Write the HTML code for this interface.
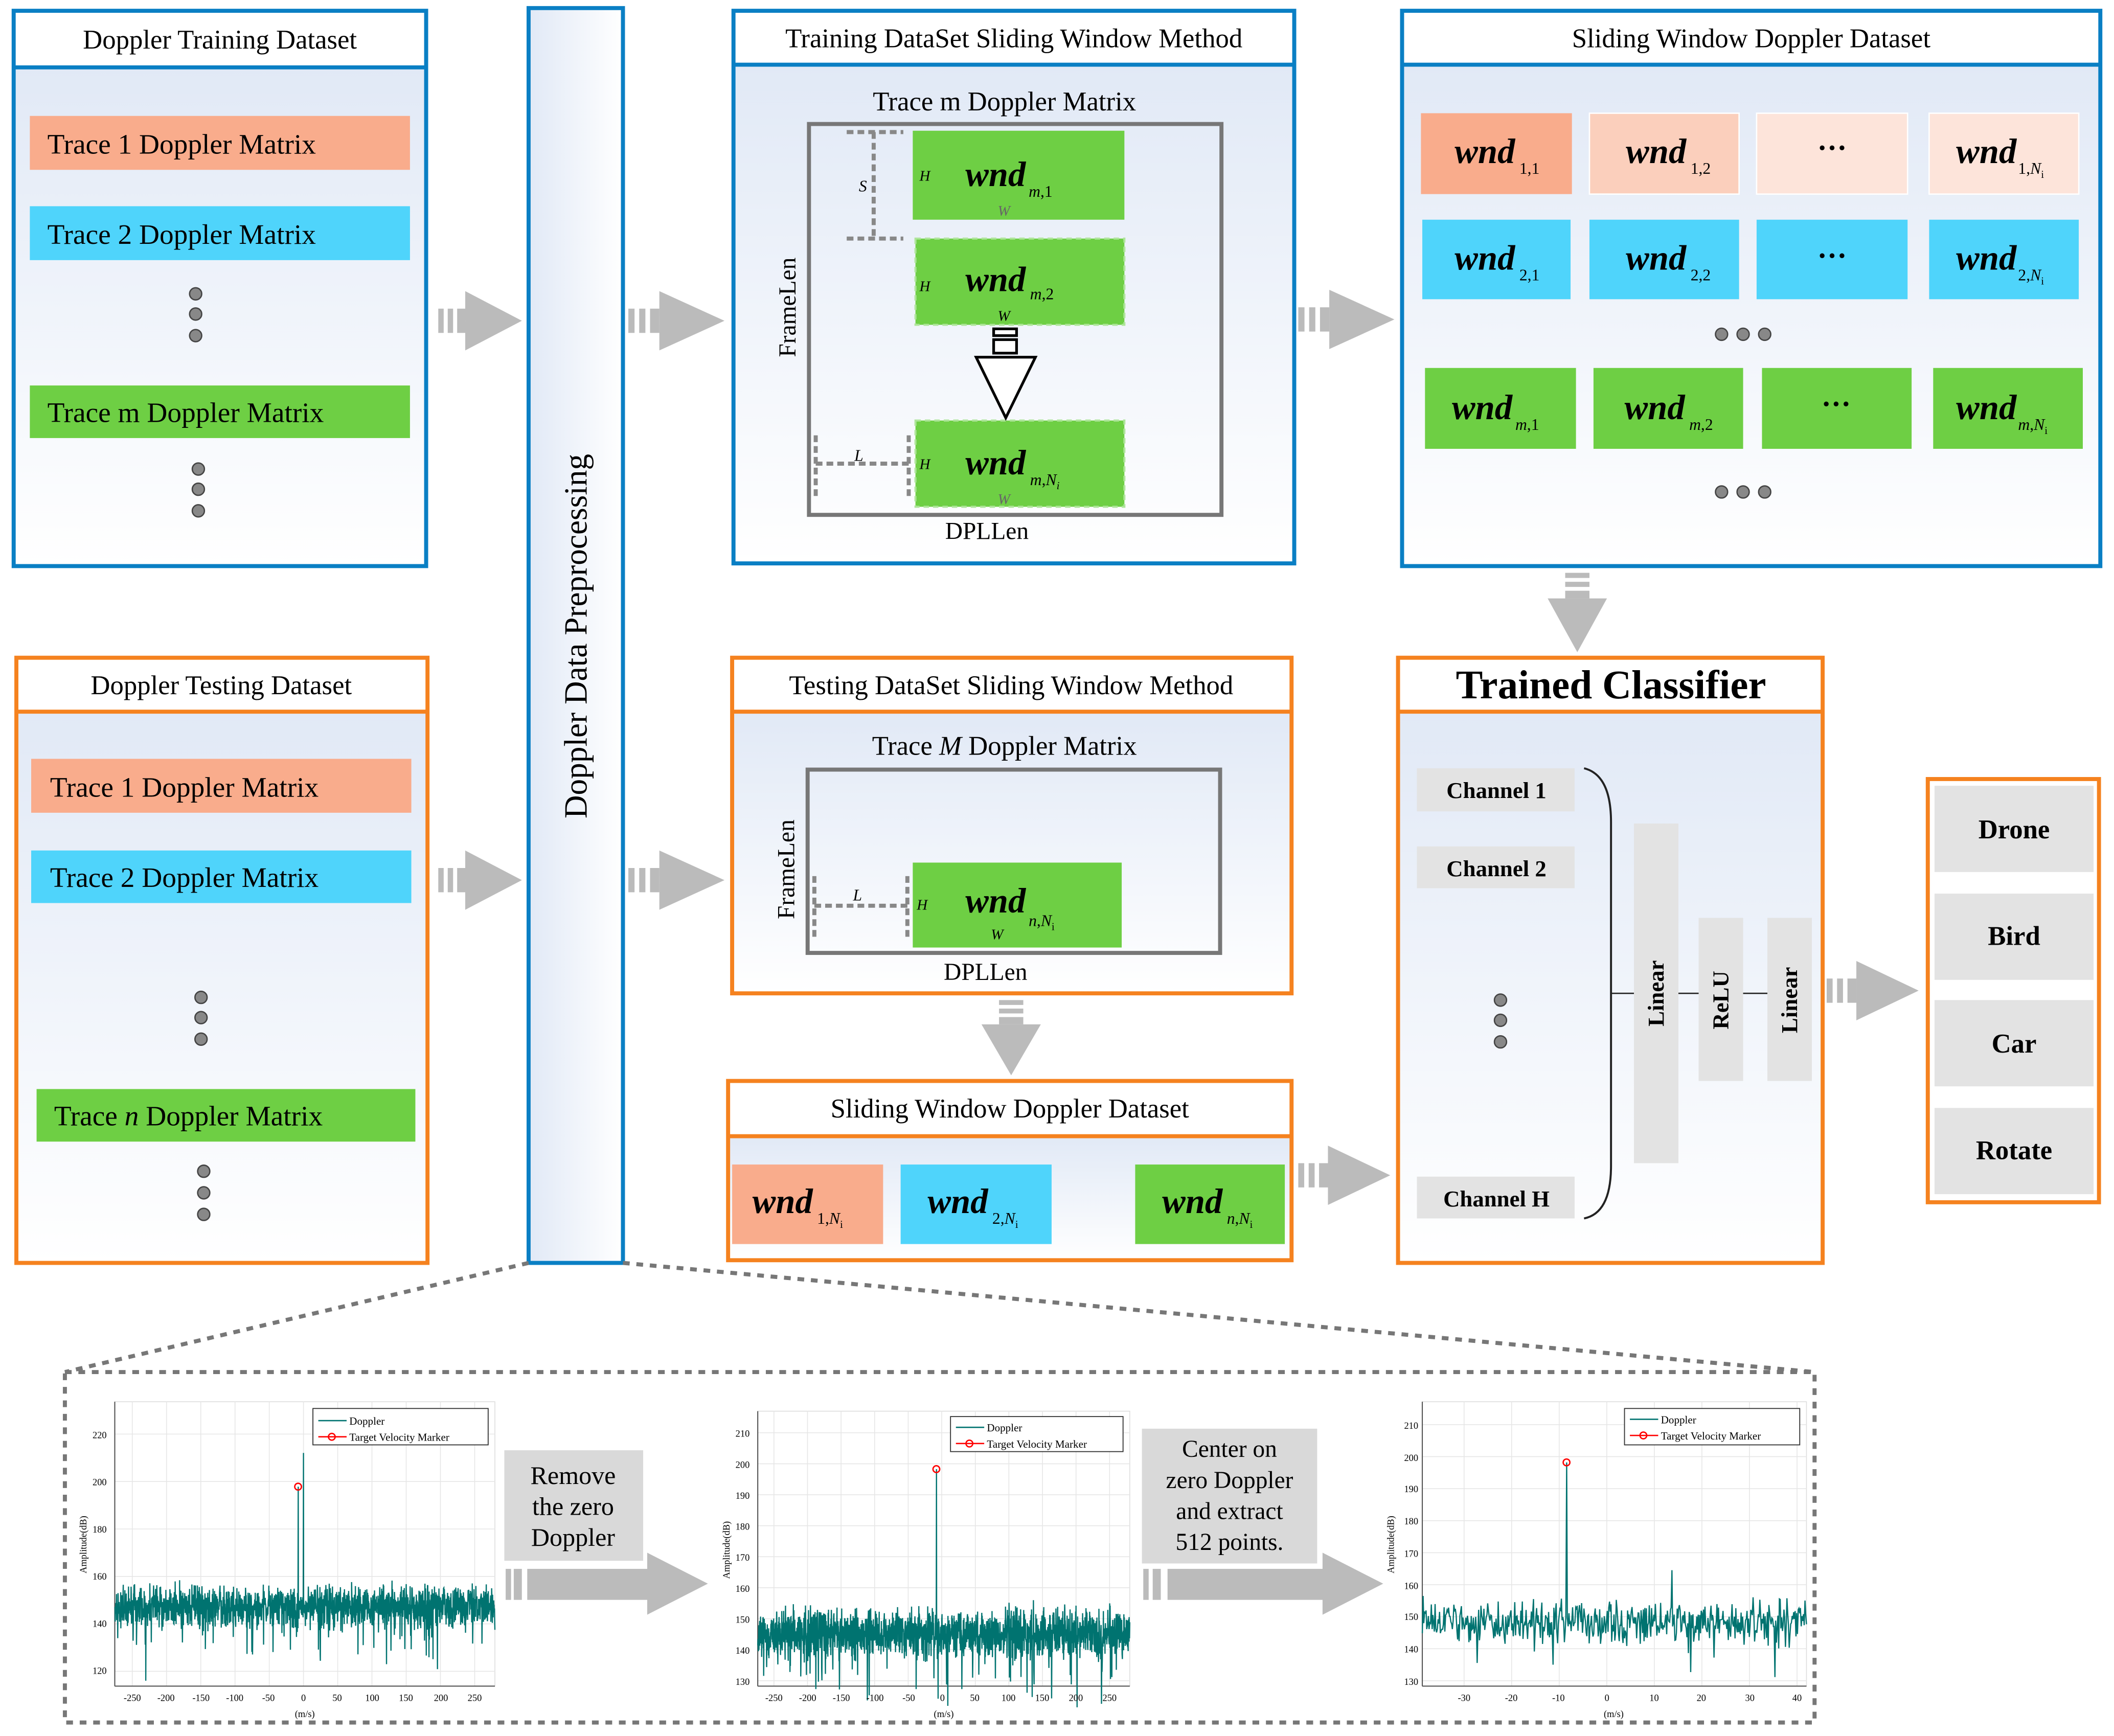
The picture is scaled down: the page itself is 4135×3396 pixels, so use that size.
<!DOCTYPE html>
<html><head><meta charset="utf-8"><style>
html,body{margin:0;padding:0;background:#fff}
svg{display:block}
text{font-family:"Liberation Serif",serif}
</style></head><body>
<svg id="s" width="4135" height="3396" viewBox="0 0 1568 1288" xmlns="http://www.w3.org/2000/svg">
<defs>
<linearGradient id="g" x1="0" y1="0" x2="0" y2="1"><stop offset="0" stop-color="#e1e9f6"/><stop offset="1" stop-color="#ffffff"/></linearGradient>
<linearGradient id="gh" x1="0" y1="0" x2="1" y2="0"><stop offset="0" stop-color="#e1e9f6"/><stop offset="1" stop-color="#ffffff"/></linearGradient>
<g id="ar"><rect x="0" y="-9" width="4" height="18" fill="#bbb"/><rect x="7" y="-9" width="4" height="18" fill="#bbb"/><rect x="14" y="-9" width="6" height="18" fill="#bbb"/><polygon points="20,-22 62,0 20,22" fill="#bbb"/></g>
</defs>
<rect width="1568" height="1288" fill="#fff"/>

<!-- Training dataset -->
<rect x="10" y="50" width="306" height="370" fill="url(#g)"/>
<rect x="10" y="8" width="306" height="412" fill="none" stroke="#0a7fc4" stroke-width="3"/>
<line x1="10" y1="50" x2="316" y2="50" stroke="#0a7fc4" stroke-width="3"/>
<text x="163" y="36" font-size="20" text-anchor="middle">Doppler Training Dataset</text>
<rect x="22" y="86" width="282" height="40" fill="#f9ac8c"/><text x="35" y="114" font-size="21">Trace 1 Doppler Matrix</text>
<rect x="22" y="153" width="282" height="40" fill="#4fd4fb"/><text x="35" y="181" font-size="21">Trace 2 Doppler Matrix</text>
<rect x="22" y="286" width="282" height="39" fill="#6ecf44"/><text x="35" y="313" font-size="21">Trace m Doppler Matrix</text>
<g fill="#888" stroke="#444" stroke-width="1"><circle cx="145" cy="218" r="4.5"/><circle cx="145" cy="233" r="4.5"/><circle cx="145" cy="249" r="4.5"/><circle cx="147" cy="348" r="4.5"/><circle cx="147" cy="363" r="4.5"/><circle cx="147" cy="379" r="4.5"/></g>

<!-- Testing dataset -->
<rect x="12" y="528" width="305" height="409" fill="url(#g)"/>
<rect x="12" y="488" width="305" height="449" fill="none" stroke="#f5821f" stroke-width="3"/>
<line x1="12" y1="528" x2="317" y2="528" stroke="#f5821f" stroke-width="3"/>
<text x="164" y="515" font-size="20" text-anchor="middle">Doppler Testing Dataset</text>
<rect x="23" y="563" width="282" height="40" fill="#f9ac8c"/><text x="37" y="591" font-size="21">Trace 1 Doppler Matrix</text>
<rect x="23" y="631" width="282" height="39" fill="#4fd4fb"/><text x="37" y="658" font-size="21">Trace 2 Doppler Matrix</text>
<rect x="27" y="808" width="281" height="39" fill="#6ecf44"/><text x="40" y="835" font-size="21">Trace <tspan font-style="italic">n</tspan> Doppler Matrix</text>
<g fill="#888" stroke="#444" stroke-width="1"><circle cx="149" cy="740" r="4.5"/><circle cx="149" cy="755" r="4.5"/><circle cx="149" cy="771" r="4.5"/><circle cx="151" cy="869" r="4.5"/><circle cx="151" cy="885" r="4.5"/><circle cx="151" cy="901" r="4.5"/></g>

<!-- Preprocessing -->
<rect x="392" y="6" width="70" height="931" fill="url(#gh)" stroke="#0a7fc4" stroke-width="3"/>
<text transform="translate(435,472) rotate(-90)" font-size="24" text-anchor="middle">Doppler Data Preprocessing</text>

<!-- arrows -->
<use href="#ar" transform="translate(325,238)"/>
<use href="#ar" transform="translate(325,653)"/>
<use href="#ar" transform="translate(466,238) scale(1.15,1)"/>
<use href="#ar" transform="translate(466,653) scale(1.15,1)"/>
<use href="#ar" transform="translate(963,237) scale(1.15,1)"/>
<use href="#ar" transform="translate(963,872) scale(1.1,1)"/>
<use href="#ar" transform="translate(1355,735) scale(1.1,1)"/>
<use href="#ar" transform="translate(1170,425) rotate(90) scale(0.95,1)"/>
<use href="#ar" transform="translate(750,742) rotate(90) scale(0.9,1)"/>

<!-- Training sliding window -->
<rect x="544" y="48" width="416" height="370" fill="url(#g)"/>
<rect x="544" y="8" width="416" height="410" fill="none" stroke="#0a7fc4" stroke-width="3"/>
<line x1="544" y1="48" x2="960" y2="48" stroke="#0a7fc4" stroke-width="3"/>
<text x="752" y="35" font-size="20" text-anchor="middle">Training DataSet Sliding Window Method</text>
<text x="745" y="82" font-size="20" text-anchor="middle">Trace m Doppler Matrix</text>
<rect x="600" y="92" width="306" height="290" fill="none" stroke="#777" stroke-width="3"/>
<rect x="677" y="97" width="157" height="66" fill="#6ecf44"/>
<rect x="679" y="177" width="155" height="64" fill="#6ecf44" stroke="#aee59a" stroke-width="1.5" stroke-dasharray="4,3"/>
<rect x="679" y="312" width="155" height="64" fill="#6ecf44" stroke="#aee59a" stroke-width="1.5" stroke-dasharray="4,3"/>
<g font-style="italic" font-size="11"><text x="682" y="134">H</text><text x="682" y="216">H</text><text x="682" y="348">H</text><text x="740" y="160" fill="#666">W</text><text x="740" y="238">W</text><text x="740" y="374" fill="#666">W</text></g>
<g font-style="italic" font-weight="bold" font-size="26"><text x="716" y="138">wnd</text><text x="716" y="216">wnd</text><text x="716" y="352">wnd</text></g>
<g font-style="italic" font-size="12"><text x="763" y="146">m<tspan font-style="normal">,1</tspan></text><text x="764" y="222">m<tspan font-style="normal">,2</tspan></text><text x="764" y="360">m<tspan font-style="normal">,</tspan>N<tspan font-size="8" dy="3">i</tspan></text></g>
<g fill="#fff" stroke="#000" stroke-width="2"><rect x="737" y="244" width="17" height="5"/><rect x="737" y="252" width="17" height="10"/><polygon points="724,265 768,265 746,310"/></g>
<g stroke="#888" stroke-width="3" stroke-dasharray="5,3" fill="none"><line x1="628" y1="98" x2="670" y2="98"/><line x1="628" y1="177" x2="670" y2="177"/><line x1="648" y1="98" x2="648" y2="177"/><line x1="605" y1="323" x2="605" y2="368"/><line x1="674" y1="323" x2="674" y2="368"/><line x1="605" y1="344" x2="674" y2="344"/></g>
<text x="640" y="142" font-size="12" font-style="italic" text-anchor="middle">S</text>
<text x="637" y="342" font-size="12" font-style="italic" text-anchor="middle">L</text>
<text transform="translate(590,228) rotate(-90)" font-size="18" text-anchor="middle">FrameLen</text>
<text x="732" y="400" font-size="18" text-anchor="middle">DPLLen</text>

<!-- Sliding window dataset top -->
<rect x="1040" y="48" width="518" height="372" fill="url(#g)"/>
<rect x="1040" y="8" width="518" height="412" fill="none" stroke="#0a7fc4" stroke-width="3"/>
<line x1="1040" y1="48" x2="1558" y2="48" stroke="#0a7fc4" stroke-width="3"/>
<text x="1299" y="35" font-size="20" text-anchor="middle">Sliding Window Doppler Dataset</text>
<rect x="1054" y="84" width="112" height="60" fill="#f9ac8c"/><rect x="1179" y="84" width="111" height="60" fill="#fbcfbc" stroke="#fff"/><rect x="1303" y="84" width="112" height="60" fill="#fde4da" stroke="#fff"/><rect x="1431" y="84" width="111" height="60" fill="#fde4da" stroke="#fff"/>
<rect x="1055" y="163" width="110" height="59" fill="#4fd4fb"/><rect x="1179" y="163" width="111" height="59" fill="#4fd4fb"/><rect x="1303" y="163" width="112" height="59" fill="#4fd4fb"/><rect x="1431" y="163" width="111" height="59" fill="#4fd4fb"/>
<rect x="1057" y="273" width="112" height="60" fill="#6ecf44"/><rect x="1182" y="273" width="111" height="60" fill="#6ecf44"/><rect x="1307" y="273" width="111" height="60" fill="#6ecf44"/><rect x="1434" y="273" width="111" height="60" fill="#6ecf44"/>
<g font-style="italic" font-weight="bold" font-size="26"><text x="1079" y="121">wnd</text><text x="1206" y="121">wnd</text><text x="1451" y="121">wnd</text><text x="1079" y="200">wnd</text><text x="1206" y="200">wnd</text><text x="1451" y="200">wnd</text><text x="1077" y="311">wnd</text><text x="1205" y="311">wnd</text><text x="1451" y="311">wnd</text></g>
<g font-size="22" font-weight="bold" text-anchor="middle"><text x="1359" y="117">···</text><text x="1359" y="197">···</text><text x="1362" y="307">···</text></g>
<g font-size="12"><text x="1127" y="129">1,1</text><text x="1254" y="129">1,2</text><text x="1497" y="129">1,<tspan font-style="italic">N</tspan><tspan font-size="8" dy="3">i</tspan></text><text x="1127" y="208">2,1</text><text x="1254" y="208">2,2</text><text x="1497" y="208">2,<tspan font-style="italic">N</tspan><tspan font-size="8" dy="3">i</tspan></text><text x="1124" y="319"><tspan font-style="italic">m</tspan>,1</text><text x="1253" y="319"><tspan font-style="italic">m</tspan>,2</text><text x="1497" y="319"><tspan font-style="italic">m</tspan>,<tspan font-style="italic">N</tspan><tspan font-size="8" dy="3">i</tspan></text></g>
<g fill="#888" stroke="#444" stroke-width="1"><circle cx="1277" cy="248" r="4.5"/><circle cx="1293" cy="248" r="4.5"/><circle cx="1309" cy="248" r="4.5"/><circle cx="1277" cy="365" r="4.5"/><circle cx="1293" cy="365" r="4.5"/><circle cx="1309" cy="365" r="4.5"/></g>

<!-- Testing sliding window -->
<rect x="543" y="528" width="415" height="209" fill="url(#g)"/>
<rect x="543" y="488" width="415" height="249" fill="none" stroke="#f5821f" stroke-width="3"/>
<line x1="543" y1="528" x2="958" y2="528" stroke="#f5821f" stroke-width="3"/>
<text x="750" y="515" font-size="20" text-anchor="middle">Testing DataSet Sliding Window Method</text>
<text x="745" y="560" font-size="20" text-anchor="middle">Trace <tspan font-style="italic">M</tspan> Doppler Matrix</text>
<rect x="599" y="571" width="306" height="136" fill="none" stroke="#777" stroke-width="3"/>
<rect x="677" y="640" width="155" height="63" fill="#6ecf44"/>
<text x="680" y="675" font-size="11" font-style="italic">H</text><text x="735" y="697" font-size="11" font-style="italic">W</text>
<text x="716" y="677" font-size="26" font-style="italic" font-weight="bold">wnd</text>
<text x="763" y="687" font-size="12"><tspan font-style="italic">n</tspan>,<tspan font-style="italic">N</tspan><tspan font-size="8" dy="3">i</tspan></text>
<g stroke="#888" stroke-width="3" stroke-dasharray="5,3" fill="none"><line x1="604" y1="650" x2="604" y2="695"/><line x1="673" y1="650" x2="673" y2="695"/><line x1="604" y1="672" x2="673" y2="672"/></g>
<text x="636" y="668" font-size="12" font-style="italic" text-anchor="middle">L</text>
<text transform="translate(589,645) rotate(-90)" font-size="18" text-anchor="middle">FrameLen</text>
<text x="731" y="727" font-size="18" text-anchor="middle">DPLLen</text>

<!-- Sliding window dataset bottom -->
<rect x="540" y="843" width="418" height="92" fill="url(#g)"/>
<rect x="540" y="802" width="418" height="133" fill="none" stroke="#f5821f" stroke-width="3"/>
<line x1="540" y1="843" x2="958" y2="843" stroke="#f5821f" stroke-width="3"/>
<text x="749" y="829" font-size="20" text-anchor="middle">Sliding Window Doppler Dataset</text>
<rect x="543" y="864" width="112" height="59" fill="#f9ac8c"/><rect x="668" y="864" width="112" height="59" fill="#4fd4fb"/><rect x="842" y="864" width="111" height="59" fill="#6ecf44"/>
<g font-style="italic" font-weight="bold" font-size="26"><text x="558" y="900">wnd</text><text x="688" y="900">wnd</text><text x="862" y="900">wnd</text></g>
<g font-size="12"><text x="606" y="908">1,<tspan font-style="italic">N</tspan><tspan font-size="8" dy="3">i</tspan></text><text x="736" y="908">2,<tspan font-style="italic">N</tspan><tspan font-size="8" dy="3">i</tspan></text><text x="910" y="908"><tspan font-style="italic">n</tspan>,<tspan font-style="italic">N</tspan><tspan font-size="8" dy="3">i</tspan></text></g>

<!-- Trained classifier -->
<rect x="1037" y="528" width="315" height="409" fill="url(#g)"/>
<rect x="1037" y="488" width="315" height="449" fill="none" stroke="#f5821f" stroke-width="3"/>
<line x1="1037" y1="528" x2="1352" y2="528" stroke="#f5821f" stroke-width="3"/>
<text x="1195" y="518" font-size="30" font-weight="bold" text-anchor="middle">Trained Classifier</text>
<g fill="#e3e3e3"><rect x="1051" y="570" width="117" height="32"/><rect x="1051" y="628" width="117" height="31"/><rect x="1051" y="873" width="117" height="31"/><rect x="1212" y="611" width="33" height="252"/><rect x="1260" y="681" width="33" height="121"/><rect x="1311" y="681" width="33" height="121"/></g>
<g font-size="17" font-weight="bold" text-anchor="middle"><text x="1110" y="592">Channel 1</text><text x="1110" y="650">Channel 2</text><text x="1110" y="895">Channel H</text>
<text transform="translate(1234,737) rotate(-90)">Linear</text><text transform="translate(1282,742) rotate(-90)">ReLU</text><text transform="translate(1333,742) rotate(-90)">Linear</text></g>
<g fill="#888" stroke="#444" stroke-width="1"><circle cx="1113" cy="742" r="4.5"/><circle cx="1113" cy="757" r="4.5"/><circle cx="1113" cy="773" r="4.5"/></g>
<path d="M1175,570 Q1195,575 1195,610 L1195,865 Q1195,900 1175,904" fill="none" stroke="#222" stroke-width="1.5"/>
<g stroke="#222" stroke-width="1"><line x1="1195" y1="737" x2="1212" y2="737"/><line x1="1245" y1="737" x2="1260" y2="737"/><line x1="1293" y1="737" x2="1311" y2="737"/></g>

<!-- Output -->
<rect x="1430" y="578" width="127" height="314" fill="#fff" stroke="#f5821f" stroke-width="3"/>
<g fill="#e3e3e3"><rect x="1435" y="583" width="118" height="64"/><rect x="1435" y="663" width="118" height="64"/><rect x="1435" y="742" width="118" height="64"/><rect x="1435" y="822" width="118" height="64"/></g>
<g font-size="20" font-weight="bold" text-anchor="middle"><text x="1494" y="622">Drone</text><text x="1494" y="701">Bird</text><text x="1494" y="781">Car</text><text x="1494" y="860">Rotate</text></g>

<!-- bottom dashed region -->
<g stroke="#777" stroke-width="3" stroke-dasharray="5,5" fill="none">
<line x1="392" y1="937" x2="48" y2="1018"/><line x1="462" y1="937" x2="1346" y2="1018"/>
<rect x="48" y="1018" width="1298" height="260"/></g>

<!-- plot frames -->
<g id="plots"></g>
<g font-size="7"><text transform="translate(64,1146) rotate(-90)" text-anchor="middle">Amplitude(dB)</text><text transform="translate(541,1150) rotate(-90)" text-anchor="middle">Amplitude(dB)</text><text transform="translate(1034,1146) rotate(-90)" text-anchor="middle">Amplitude(dB)</text>
<text x="226" y="1274" text-anchor="middle">(m/s)</text><text x="700" y="1274" text-anchor="middle">(m/s)</text><text x="1197" y="1274" text-anchor="middle">(m/s)</text></g>
<g font-size="7">
<text x="79" y="1067" text-anchor="end">220</text><text x="79" y="1102" text-anchor="end">200</text><text x="79" y="1137" text-anchor="end">180</text><text x="79" y="1172" text-anchor="end">160</text><text x="79" y="1207" text-anchor="end">140</text><text x="79" y="1242" text-anchor="end">120</text>
<text x="98" y="1262" text-anchor="middle">-250</text><text x="123" y="1262" text-anchor="middle">-200</text><text x="149" y="1262" text-anchor="middle">-150</text><text x="174" y="1262" text-anchor="middle">-100</text><text x="199" y="1262" text-anchor="middle">-50</text><text x="225" y="1262" text-anchor="middle">0</text><text x="250" y="1262" text-anchor="middle">50</text><text x="276" y="1262" text-anchor="middle">100</text><text x="301" y="1262" text-anchor="middle">150</text><text x="327" y="1262" text-anchor="middle">200</text><text x="352" y="1262" text-anchor="middle">250</text>
<text x="556" y="1066" text-anchor="end">210</text><text x="556" y="1089" text-anchor="end">200</text><text x="556" y="1112" text-anchor="end">190</text><text x="556" y="1135" text-anchor="end">180</text><text x="556" y="1158" text-anchor="end">170</text><text x="556" y="1181" text-anchor="end">160</text><text x="556" y="1204" text-anchor="end">150</text><text x="556" y="1227" text-anchor="end">140</text><text x="556" y="1250" text-anchor="end">130</text>
<text x="574" y="1262" text-anchor="middle">-250</text><text x="599" y="1262" text-anchor="middle">-200</text><text x="624" y="1262" text-anchor="middle">-150</text><text x="649" y="1262" text-anchor="middle">-100</text><text x="674" y="1262" text-anchor="middle">-50</text><text x="699" y="1262" text-anchor="middle">0</text><text x="723" y="1262" text-anchor="middle">50</text><text x="748" y="1262" text-anchor="middle">100</text><text x="773" y="1262" text-anchor="middle">150</text><text x="798" y="1262" text-anchor="middle">200</text><text x="823" y="1262" text-anchor="middle">250</text>
<text x="1052" y="1060" text-anchor="end">210</text><text x="1052" y="1084" text-anchor="end">200</text><text x="1052" y="1107" text-anchor="end">190</text><text x="1052" y="1131" text-anchor="end">180</text><text x="1052" y="1155" text-anchor="end">170</text><text x="1052" y="1179" text-anchor="end">160</text><text x="1052" y="1202" text-anchor="end">150</text><text x="1052" y="1226" text-anchor="end">140</text><text x="1052" y="1250" text-anchor="end">130</text>
<text x="1086" y="1262" text-anchor="middle">-30</text><text x="1121" y="1262" text-anchor="middle">-20</text><text x="1156" y="1262" text-anchor="middle">-10</text><text x="1192" y="1262" text-anchor="middle">0</text><text x="1227" y="1262" text-anchor="middle">10</text><text x="1262" y="1262" text-anchor="middle">20</text><text x="1298" y="1262" text-anchor="middle">30</text><text x="1333" y="1262" text-anchor="middle">40</text>
</g>
<!-- legends -->
<g font-size="8">
<rect x="232" y="1045" width="130" height="27" fill="#fff" stroke="#333" stroke-width="0.7"/><line x1="236" y1="1054" x2="257" y2="1054" stroke="#007370"/><text x="259" y="1057">Doppler</text><line x1="236" y1="1066" x2="257" y2="1066" stroke="red"/><circle cx="246" cy="1066" r="2.5" fill="none" stroke="red"/><text x="259" y="1069">Target Velocity Marker</text>
<rect x="705" y="1051" width="128" height="26" fill="#fff" stroke="#333" stroke-width="0.7"/><line x1="709" y1="1059" x2="730" y2="1059" stroke="#007370"/><text x="732" y="1062">Doppler</text><line x1="709" y1="1071" x2="730" y2="1071" stroke="red"/><circle cx="719" cy="1071" r="2.5" fill="none" stroke="red"/><text x="732" y="1074">Target Velocity Marker</text>
<rect x="1205" y="1045" width="130" height="27" fill="#fff" stroke="#333" stroke-width="0.7"/><line x1="1209" y1="1053" x2="1230" y2="1053" stroke="#007370"/><text x="1232" y="1056">Doppler</text><line x1="1209" y1="1065" x2="1230" y2="1065" stroke="red"/><circle cx="1219" cy="1065" r="2.5" fill="none" stroke="red"/><text x="1232" y="1068">Target Velocity Marker</text>
</g>

<!-- step boxes and arrows -->
<rect x="374" y="1076" width="103" height="82" fill="#d9d9d9"/>
<g font-size="19" text-anchor="middle"><text x="425" y="1101">Remove</text><text x="425" y="1124">the zero</text><text x="425" y="1147">Doppler</text></g>
<rect x="847" y="1060" width="130" height="100" fill="#d9d9d9"/>
<g font-size="18" text-anchor="middle"><text x="912" y="1081">Center on</text><text x="912" y="1104">zero Doppler</text><text x="912" y="1127">and extract</text><text x="912" y="1150">512 points.</text></g>
<g fill="#bbb"><rect x="375" y="1164" width="4" height="23"/><rect x="381" y="1164" width="6" height="23"/><rect x="391" y="1164" width="90" height="23"/><polygon points="480,1152 525,1175 480,1198"/>
<rect x="848" y="1164" width="4" height="23"/><rect x="855" y="1164" width="6" height="23"/><rect x="866" y="1164" width="116" height="23"/><polygon points="981,1152 1026,1175 981,1198"/></g>
</svg>
<script>
(function(){
var s=12345;function r(){s=(s*1103515245+12345)%2147483648;return s/2147483648;}
function gauss(){return (r()+r()+r()-1.5)*1.6;}
var NS="http://www.w3.org/2000/svg",P=document.getElementById('plots');
function el(t,a){var e=document.createElementNS(NS,t);for(var k in a)e.setAttribute(k,a[k]);P.appendChild(e);return e;}
function axes(x0,y0,x1,y1,xt,yt){
 el('rect',{x:x0,y:y0,width:x1-x0,height:y1-y0,fill:'#fff',stroke:'#ddd','stroke-width':0.6});
 xt.forEach(function(x){el('line',{x1:x,y1:y0,x2:x,y2:y1,stroke:'#e6e6e6','stroke-width':0.6});});
 yt.forEach(function(y){el('line',{x1:x0,y1:y,x2:x1,y2:y,stroke:'#e6e6e6','stroke-width':0.6});});
 el('line',{x1:x0,y1:y1,x2:x1,y2:y1,stroke:'#555','stroke-width':0.8});
 el('line',{x1:x0,y1:y0,x2:x0,y2:y1,stroke:'#555','stroke-width':0.8});
}
function sig(x0,x1,n,mean,amp,spk,peaks,w){
 var pts=[];for(var i=0;i<n;i++){var x=x0+(x1-x0)*i/(n-1);var v=mean+gauss()*amp;
  if(r()<spk)v+=amp*(1.5+r()*2.5);
  peaks.forEach(function(p){if(Math.abs(x-p[0])<(x1-x0)/(n-1)*0.6)v=p[1];});
  pts.push(x.toFixed(1)+','+v.toFixed(1));}
 el('polyline',{points:pts.join(' '),fill:'none',stroke:'#007370','stroke-width':w});
}
function rng(a,b,n){var o=[];for(var i=0;i<n;i++)o.push(a+(b-a)*i/(n-1));return o;}
axes(85,1040,367,1251,rng(98,352,11),rng(1064,1240,6));
sig(85,367,1800,1192,9,0.035,[[225,1078],[221,1103]],0.9);
el('circle',{cx:221,cy:1103,r:2.5,fill:'none',stroke:'red','stroke-width':1});
axes(562,1047,838,1251,rng(574,823,11),rng(1063,1247,9));
sig(562,838,1800,1212,11,0.03,[[694.5,1090]],0.9);
el('circle',{cx:694.5,cy:1090,r:2.5,fill:'none',stroke:'red','stroke-width':1});
axes(1055,1040,1340,1251,rng(1086,1333,8),rng(1057,1247,9));
sig(1055,1340,512,1204,10,0.03,[[1162,1085],[1240,1165]],0.9);
el('circle',{cx:1162,cy:1085,r:2.5,fill:'none',stroke:'red','stroke-width':1});
})();
</script>
</body></html>
